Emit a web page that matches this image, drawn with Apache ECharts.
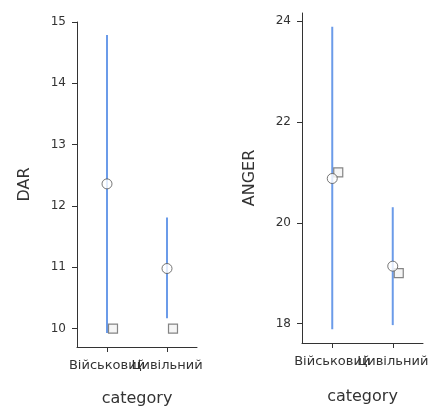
<!DOCTYPE html>
<html>
<head>
	<meta charset="utf-8" />
	<title>DAR / ANGER</title>
	<script src="https://cdn.jsdelivr.net/npm/echarts@6/dist/echarts.min.js"></script>
	<style>
		html, body { margin: 0; padding: 0; background: #fff; }
		#main { width: 432px; height: 412px; }
	</style>
</head>
<body>
	<div id="main"></div>
	<script type="text/javascript">
		// categories and values
		var categories = ['Військовий', 'Цивільний'];

		// DAR panel
		var darMean = [12.36, 10.98];
		var darMedian = [10.0, 10.0];
		var darLow = [9.93, 10.17];
		var darHigh = [14.79, 11.81];
		var darTicks = [10, 11, 12, 13, 14, 15];

		// ANGER panel
		var angerMean = [20.88, 19.14];
		var angerMedian = [21.0, 19.0];
		var angerLow = [17.89, 17.97];
		var angerHigh = [23.89, 20.31];
		var angerTicks = [18, 20, 22, 24];

		var font = 'DejaVu Sans';
		var textColor = '#333';
		var blue = '#6b9be9';

		function xAxisOf(idx, gap) {
			return {
				type: 'category', gridIndex: idx, data: categories, boundaryGap: true,
				name: 'category', nameLocation: 'middle', nameGap: gap,
				nameTextStyle: { fontFamily: font, fontSize: 16, color: textColor },
				axisLine: { onZero: false, lineStyle: { color: '#333', width: 1 } },
				axisTick: { show: true, length: 5, interval: 0, alignWithLabel: true, lineStyle: { color: '#333' } },
				axisLabel: {
					interval: 0, margin: 12, fontFamily: font, fontSize: 13, color: textColor,
					hideOverlap: false, showMinLabel: true, showMaxLabel: true
				},
				splitLine: { show: false }
			};
		}

		function yAxisOf(idx, name, min, max, ticks) {
			return {
				type: 'value', gridIndex: idx, min: min, max: max,
				name: name, nameLocation: 'middle', nameGap: 44,
				nameTextStyle: { fontFamily: font, fontSize: 16, color: textColor },
				axisLine: { show: true, onZero: false, lineStyle: { color: '#333', width: 1 } },
				axisTick: { show: true, length: 5, customValues: ticks, lineStyle: { color: '#333' } },
				axisLabel: {
					customValues: ticks, margin: 11, fontFamily: font, fontSize: 12, color: textColor,
					hideOverlap: false, showMinLabel: true, showMaxLabel: true
				},
				splitLine: { show: false }
			};
		}

		function rangeSeries(idx, low, high) {
			return {
				type: 'custom', xAxisIndex: idx, yAxisIndex: idx, z: 1,
				data: low.map(function (l, i) { return [i, l, high[i]]; }),
				renderItem: function (params, api) {
					var p1 = api.coord([api.value(0), api.value(1)]);
					var p2 = api.coord([api.value(0), api.value(2)]);
					return {
						type: 'line',
						shape: { x1: p1[0], y1: p1[1], x2: p2[0], y2: p2[1] },
						style: { stroke: blue, lineWidth: 2 }
					};
				}
			};
		}

		function meanSeries(idx, vals) {
			return {
				type: 'scatter', xAxisIndex: idx, yAxisIndex: idx, z: 3,
				symbol: 'circle', symbolSize: 10,
				itemStyle: { color: '#fff', borderColor: '#555', borderWidth: 1 },
				data: vals.map(function (v, i) { return [i, v]; })
			};
		}

		function medianSeries(idx, vals) {
			return {
				type: 'scatter', xAxisIndex: idx, yAxisIndex: idx, z: 2,
				symbol: 'rect', symbolSize: 9, symbolOffset: [6, 0],
				itemStyle: { color: '#f2f2f2', borderColor: '#666', borderWidth: 1.2 },
				data: vals.map(function (v, i) { return [i, v]; })
			};
		}

		var chart = echarts.init(document.getElementById('main'), null, { renderer: 'canvas' });

		var option = {
			animation: false,
			backgroundColor: '#fff',
			grid: [
				{ left: 77, top: 22, width: 120, height: 327 },
				{ left: 302, top: 13, width: 121, height: 330 }
			],
			xAxis: [xAxisOf(0, 44), xAxisOf(1, 46)],
			yAxis: [
				yAxisOf(0, 'DAR', 9.70, 15, darTicks),
				yAxisOf(1, 'ANGER', 17.615, 24.165, angerTicks)
			],
			series: [
				rangeSeries(0, darLow, darHigh),
				medianSeries(0, darMedian),
				meanSeries(0, darMean),
				rangeSeries(1, angerLow, angerHigh),
				medianSeries(1, angerMedian),
				meanSeries(1, angerMean)
			]
		};

		chart.setOption(option);
		window.addEventListener('resize', chart.resize);
	</script>
</body>
</html>
